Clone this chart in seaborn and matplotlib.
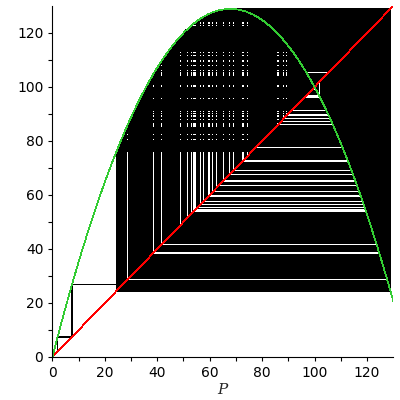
import numpy as np
import pandas as pd
import seaborn as sns
import matplotlib
matplotlib.use("Agg")
import matplotlib.pyplot as plt

# discrete logistic map P -> P + r*P*(1 - P/K)
growth_rate = 2.8
capacity = 100.0
p_start = 2.0
n_steps = 600
p_max = 130

x_ticks = [0, 20, 40, 60, 80, 100, 120]
y_ticks = [0, 20, 40, 60, 80, 100, 120]


def step(p):
    return p + growth_rate * p * (1 - p / capacity)


# cobweb path: (p,p) -> (p,f(p)) -> (f(p),f(p)) ...
xs, ys = [p_start], [p_start]
p = p_start
for _ in range(n_steps):
    q = step(p)
    xs += [p, q]
    ys += [q, q]
    p = q
web = pd.DataFrame({"P": xs, "next": ys})

grid = np.linspace(0, p_max, 400)
curve = pd.DataFrame({"P": grid, "next": step(grid)})
diag = pd.DataFrame({"P": [0, p_max], "next": [0, p_max]})

sns.set_style("white")
fig = plt.figure(figsize=(4, 4), dpi=100)
ax = fig.add_axes([0.131, 0.1075, 0.852, 0.8775])

sns.lineplot(data=web, x="P", y="next", sort=False, estimator=None,
             color="black", linewidth=0.5, antialiased=False, ax=ax)
sns.lineplot(data=diag, x="P", y="next", sort=False, estimator=None,
             color="red", linewidth=0.5, antialiased=False, ax=ax)
sns.lineplot(data=curve, x="P", y="next", sort=False, estimator=None,
             color="#33cc33", linewidth=0.5, antialiased=False, ax=ax)

ax.set_xlim(0, p_max)
ax.set_ylim(0, p_max)
ax.set_xticks(x_ticks)
ax.set_yticks(y_ticks)
ax.set_xticks(np.arange(10, p_max, 20), minor=True)
ax.set_yticks(np.arange(10, p_max, 20), minor=True)
ax.tick_params(which="both", direction="out", length=3, width=0.8,
               colors="black", labelsize=10, left=True, bottom=True)
for side in ["top", "right"]:
    ax.spines[side].set_visible(False)
for side in ["left", "bottom"]:
    ax.spines[side].set_color("black")
    ax.spines[side].set_linewidth(0.8)
ax.set_xlabel("P", fontsize=11, fontstyle="italic", family="DejaVu Serif", labelpad=2)
ax.set_ylabel("")

fig.savefig("out.png", dpi=100)
